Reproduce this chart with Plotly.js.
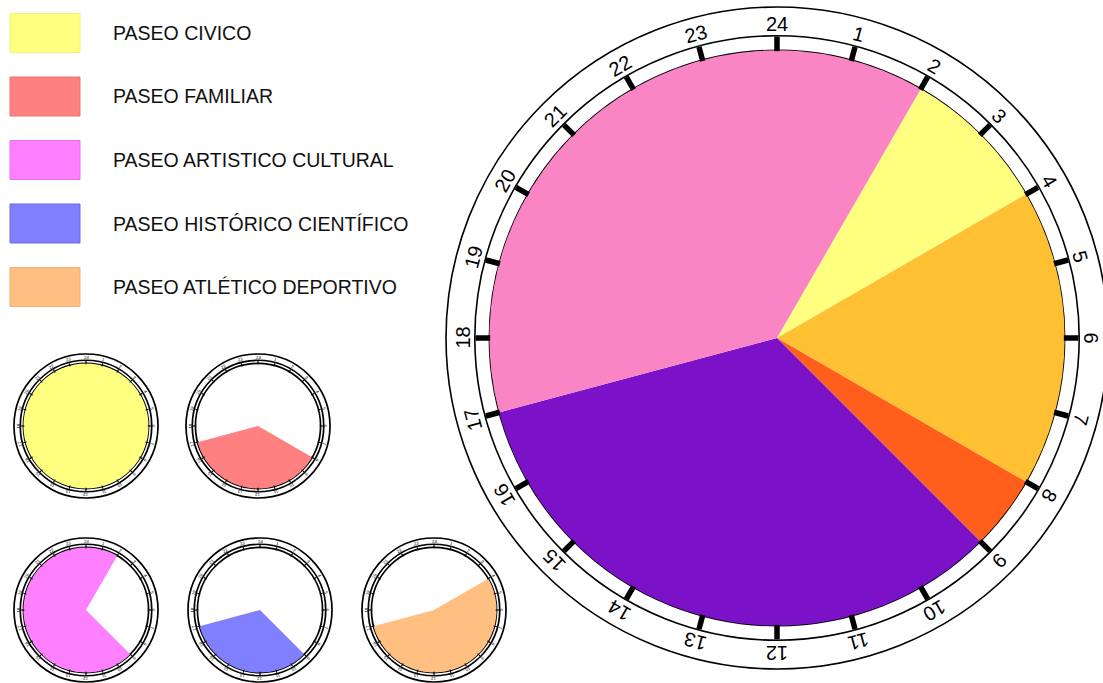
<!DOCTYPE html>
<html>
<head>
<meta charset="utf-8">
<script src="https://cdn.plot.ly/plotly-3.0.1.min.js"></script>
<style>
  html, body { margin: 0; padding: 0; background: #fff; }
  #plot { width: 1103px; height: 683px; }
</style>
</head>
<body>
<div id="plot"></div>
<script>
const W = 1103;
const H = 683;

// etiquetas del reloj de 24 horas
const horas = ["1", "2", "3", "4", "5", "6", "7", "8", "9", "10", "11", "12",
  "13", "14", "15", "16", "17", "18", "19", "20", "21", "22", "23", "24"];

// reloj grande: tramos (hora de inicio, duracion en horas)
const tramoInicio = [2, 4, 8, 9, 17];
const tramoHoras = [2, 4, 1, 8, 9];
const tramoColor = ["#ffff80", "#ffc034", "#ff5f1a", "#7b12c8", "#f985c4"];

// paseos (leyenda y relojes pequeños)
const paseos = [
  "PASEO CIVICO",
  "PASEO FAMILIAR",
  "PASEO ARTISTICO CULTURAL",
  "PASEO HISTÓRICO CIENTÍFICO",
  "PASEO ATLÉTICO DEPORTIVO",
];
const paseoColor = ["#ffff80", "#ff8080", "#ff80ff", "#8080ff", "#ffbf80"];
const paseoBorde = ["#f2f27a", "#e87272", "#e872e8", "#6a6ae0", "#eeb078"];
const paseoInicio = [0, 8, 9, 9, 4];
const paseoHoras = [24, 9, 17, 8, 13];

const data = [];
const layout = {
  width: W,
  height: H,
  margin: { l: 0, r: 0, t: 0, b: 0 },
  paper_bgcolor: "#fff",
  showlegend: false,
  shapes: [],
  annotations: [],
};

const reloj = (id, cx, cy, rOut, lw, inicio, duracion, colores) => {
  const k = rOut / 331;
  const rMid = rOut * 0.913;
  const rIn = rOut * 0.869;
  const rTxt = rOut * 0.95;

  data.push({
    type: "barpolar",
    subplot: id,
    r: inicio.map(() => rIn),
    theta: inicio.map((s, i) => (s + duracion[i] / 2) * 15),
    width: duracion.map((d) => d * 15),
    marker: { color: colores, line: { width: 0 } },
    hoverinfo: "skip",
  });

  layout[id] = {
    domain: {
      x: [(cx - rMid) / W, (cx + rMid) / W],
      y: [1 - (cy + rMid) / H, 1 - (cy - rMid) / H],
    },
    bgcolor: "#fff",
    bargap: 0,
    radialaxis: {
      range: [0, rMid],
      tickvals: [rIn],
      showticklabels: false,
      ticks: "",
      showline: false,
      showgrid: true,
      gridcolor: "#000",
      gridwidth: lw,
    },
    angularaxis: {
      rotation: 90,
      direction: "clockwise",
      tickvals: horas.map((h) => (+h % 24) * 15),
      showticklabels: false,
      ticks: "inside",
      ticklen: rMid - rIn,
      tickwidth: Math.max(1, 5.5 * k),
      tickcolor: "#000",
      showgrid: false,
      showline: true,
      linecolor: "#000",
      linewidth: lw,
    },
  };

  layout.shapes.push({
    type: "circle",
    xref: "paper",
    yref: "paper",
    x0: (cx - rOut) / W,
    x1: (cx + rOut) / W,
    y0: 1 - (cy + rOut) / H,
    y1: 1 - (cy - rOut) / H,
    line: { color: "#000", width: lw },
  });

  horas.forEach((h) => {
    const a = ((+h % 24) * 15 * Math.PI) / 180;
    layout.annotations.push({
      xref: "paper",
      yref: "paper",
      x: (cx + rTxt * Math.sin(a)) / W,
      y: 1 - (cy - rTxt * Math.cos(a)) / H,
      text: h,
      showarrow: false,
      xanchor: "center",
      yanchor: "middle",
      textangle: (+h % 24) * 15,
      font: { family: "Liberation Sans, Arial, sans-serif", size: 20 * k, color: "#000" },
    });
  });
};

reloj("polar", 777, 338, 331, 1.6, tramoInicio, tramoHoras, tramoColor);

const centros = [[86, 426], [258, 426], [86, 610], [260, 610], [434, 610]];
paseos.forEach((p, i) => {
  const id = "polar" + (i + 2);
  reloj(id, centros[i][0], centros[i][1], 72, 1.7, [paseoInicio[i]], [paseoHoras[i]], [paseoColor[i]]);

  const yc = 33 + i * 63.5;
  layout.shapes.push({
    type: "rect",
    xref: "paper",
    yref: "paper",
    x0: 10 / W,
    x1: 80 / W,
    y0: 1 - (yc + 19.5) / H,
    y1: 1 - (yc - 19.5) / H,
    fillcolor: paseoColor[i],
    line: { color: paseoBorde[i], width: 1 },
  });
  layout.annotations.push({
    xref: "paper",
    yref: "paper",
    x: 111 / W,
    y: 1 - yc / H,
    text: p,
    showarrow: false,
    xanchor: "left",
    yanchor: "middle",
    font: { family: "Liberation Sans, Arial, sans-serif", size: 19.5, color: "#111" },
  });
});

Plotly.newPlot("plot", data, layout, { staticPlot: true });
</script>
</body>
</html>
